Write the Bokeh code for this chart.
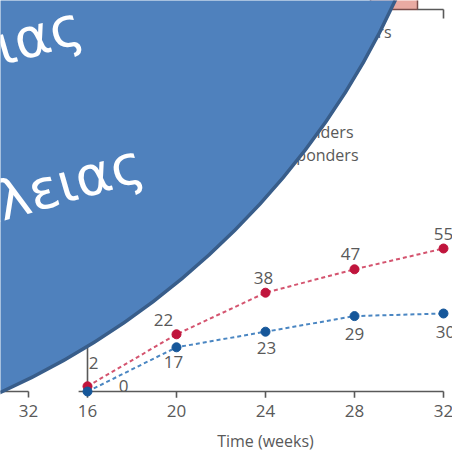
from bokeh.plotting import figure
from bokeh.models import Range1d
from bokeh.core.properties import value
from bokeh.embed import file_html
from bokeh.resources import INLINE

# ---- data ----
weeks = [16, 20, 24, 28, 32]
week_labels = ["16", "20", "24", "28", "32"]
responders = [2, 22, 38, 47, 55]
non_responders = [0, 17, 23, 29, 30]
x_title = "Time (weeks)"
legend_names = ["Responders", "Non-responders"]
prev_tick_label = "32"
banner_lines = ["Δεδομένα μακροχρόνιας", "αποτελεσματικότητας και ασφάλειας"]

# ---- styles ----
RED_PT, RED_LN = "#c0143c", "#d4546f"
BLUE_PT, BLUE_LN = "#16579a", "#4a86c2"
GREY = "#595959"
FONT = value("Open Sans")
red_dx = [6, -13, -2, -4, 0]
red_dy = [-23, -14, -15, -15, -15]
blue_dx = [36, -3, 1, 0, 2]
blue_dy = [-6, 15, 16, 18, 18]

W, H = 452, 450
p = figure(width=W, height=H, output_backend="svg", toolbar_location=None,
           x_range=Range1d(16 - 87 / 22.25, 16 + 365 / 22.25),
           y_range=Range1d((391 - 450) / 2.6, 391 / 2.6),
           x_axis_location=None, y_axis_location=None, min_border=0)
p.grid.visible = False
p.outline_line_color = None
p.background_fill_color = "white"
p.border_fill_color = "white"
p.extra_x_ranges = {"px": Range1d(0, W)}
p.extra_y_ranges = {"px": Range1d(H, 0)}
PX = dict(x_range_name="px", y_range_name="px")

# axes (drawn in data space)
p.segment(x0=[15.6], y0=[0], x1=[32], y1=[0], line_color=GREY, line_width=1.6)
p.segment(x0=[16], y0=[0], x1=[16], y1=[60], line_color=GREY, line_width=1.6)
p.segment(x0=weeks, y0=[0] * 5, x1=weeks, y1=[-2.4] * 5, line_color=GREY, line_width=1.6)
p.text(x=weeks, y=[0] * 5, text=week_labels, y_offset=19, text_align="center",
       text_baseline="middle", text_font=FONT, text_font_size="17px", text_color=GREY)
p.text(x=[24], y=[0], text=[x_title], y_offset=49, text_align="center",
       text_baseline="middle", text_font=FONT, text_font_size="16px", text_color=GREY)

# previous panel's axis end
p.segment(x0=[0], y0=[391], x1=[28], y1=[391], line_color=GREY, line_width=1.6, **PX)
p.segment(x0=[28], y0=[391], x1=[28], y1=[397], line_color=GREY, line_width=1.6, **PX)
p.text(x=[28], y=[410], text=[prev_tick_label], text_align="center", text_baseline="middle",
       text_font=FONT, text_font_size="17px", text_color=GREY, **PX)

# panel above (bar + axis)
p.quad(left=[370], right=[417], top=[-5], bottom=[9], fill_color="#e9aaa2",
       line_color="#7a4c4a", line_width=1.5, **PX)
p.segment(x0=[417], y0=[9], x1=[443], y1=[9], line_color=GREY, line_width=1.6, **PX)
p.segment(x0=[443], y0=[9], x1=[443], y1=[18], line_color=GREY, line_width=1.6, **PX)
p.text(x=[391], y=[31], text=[legend_names[1]], text_align="right", text_baseline="middle",
       text_font=FONT, text_font_size="16px", text_color=GREY, **PX)

# legend texts
p.text(x=[353, 358], y=[131, 154], text=legend_names, text_align="right",
       text_baseline="middle", text_font=FONT, text_font_size="16px", text_color=GREY, **PX)

# series
p.line(weeks, responders, line_color=RED_LN, line_width=2, line_dash="4 3")
p.line(weeks, non_responders, line_color=BLUE_LN, line_width=2, line_dash="4 3")
p.scatter(weeks, responders, size=9, fill_color=RED_PT, line_color=RED_PT)
p.scatter(weeks, non_responders, size=9, fill_color=BLUE_PT, line_color=BLUE_PT)
p.text(x=weeks, y=responders, text=[str(v) for v in responders], x_offset=red_dx,
       y_offset=red_dy, text_align="center", text_baseline="middle", text_font=FONT,
       text_font_size="17px", text_color=GREY)
p.text(x=weeks, y=non_responders, text=[str(v) for v in non_responders], x_offset=blue_dx,
       y_offset=blue_dy, text_align="center", text_baseline="middle", text_font=FONT,
       text_font_size="17px", text_color=GREY)

# overlaid blue disc with Greek banner text
p.circle(x=[-329], y=[-334], radius=797, fill_color="#4f81bd", line_color="#385d8a",
         line_width=3.5, **PX)
p.text(x=[80, 141], y=[23, 161], text=banner_lines, angle=16, angle_units="deg",
       text_align="right", text_baseline="alphabetic", text_font=value("DejaVu Sans"),
       text_font_size="55px", text_color="white", **PX)

open("out.html", "w").write(file_html(p, INLINE))
